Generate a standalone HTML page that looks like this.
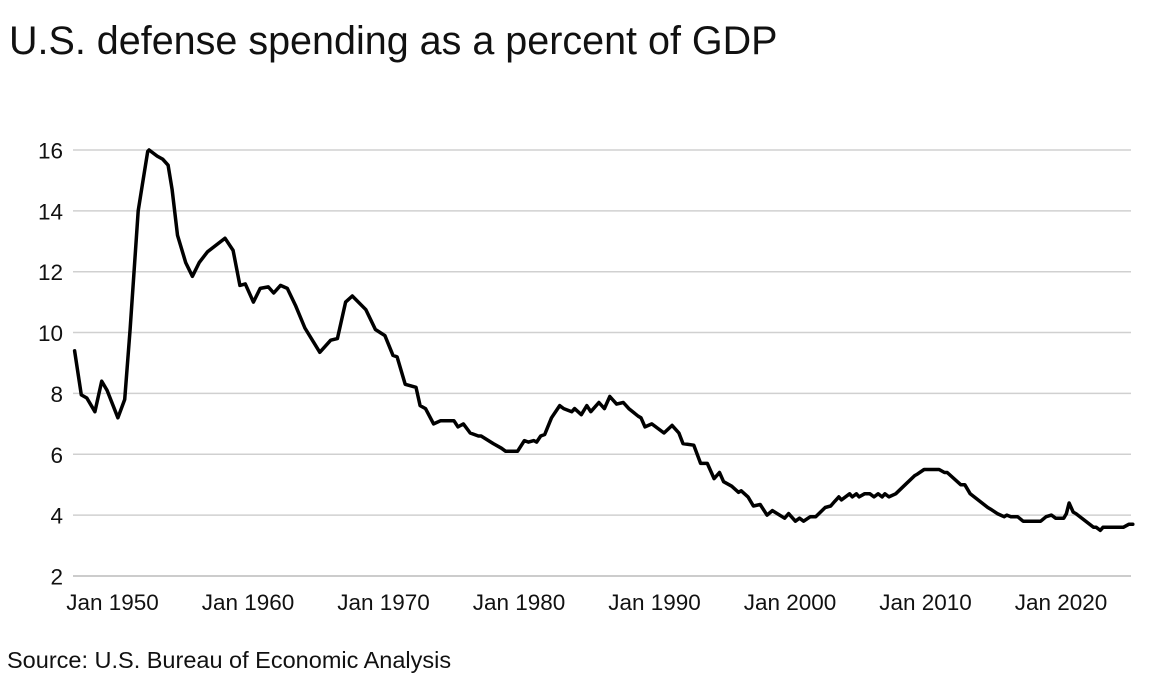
<!DOCTYPE html>
<html><head><meta charset="utf-8">
<style>
body{margin:0;background:#fff;width:1152px;height:698px;overflow:hidden;font-family:"Liberation Sans",Arial,sans-serif}
#title{position:absolute;left:9px;top:19px;font-size:39.5px;color:#111;line-height:1.15}
#source{position:absolute;left:7px;top:647px;font-size:23.5px;color:#111;line-height:1.15}
svg{position:absolute;left:0;top:0}
</style></head><body>
<div id="title">U.S. defense spending as a percent of GDP</div>
<div id="source">Source: U.S. Bureau of Economic Analysis</div>
<svg id="chart" width="1152" height="698"></svg>
<script>
const yTicks=[2,4,6,8,10,12,14,16];
const xTickYears=[1950,1960,1970,1980,1990,2000,2010,2020];
const xTickLabels=["Jan 1950","Jan 1960","Jan 1970","Jan 1980","Jan 1990","Jan 2000","Jan 2010","Jan 2020"];
const years=[1947.2,1947.7,1948.1,1948.7,1949.2,1949.6,1950.4,1950.9,1951.3,1951.9,1952.2,1952.6,1952.7,1953.3,1953.7,1954.1,1954.4,1954.8,1955.4,1955.9,1956.4,1957.0,1958.3,1958.9,1959.4,1959.8,1960.4,1960.9,1961.5,1961.9,1962.4,1962.9,1963.5,1964.2,1965.3,1966.1,1966.6,1967.2,1967.7,1968.7,1969.4,1970.1,1970.7,1971.0,1971.6,1972.4,1972.7,1973.1,1973.7,1974.2,1975.2,1975.5,1975.9,1976.4,1977.0,1977.2,1978.1,1978.7,1979.0,1979.9,1980.4,1980.7,1981.1,1981.3,1981.6,1981.9,1982.4,1983.0,1983.3,1983.9,1984.1,1984.6,1985.0,1985.3,1985.9,1986.3,1986.7,1987.2,1987.7,1988.1,1988.8,1989.0,1989.3,1989.8,1990.7,1991.3,1991.8,1992.1,1992.9,1993.4,1993.9,1994.4,1994.8,1995.1,1995.7,1996.2,1996.4,1996.9,1997.3,1997.8,1998.3,1998.7,1999.6,1999.9,2000.4,2000.7,2001.0,2001.5,2001.9,2002.6,2003.0,2003.3,2003.6,2003.8,2004.4,2004.6,2004.9,2005.1,2005.5,2005.9,2006.2,2006.5,2006.8,2007.0,2007.3,2007.8,2008.5,2009.2,2009.4,2009.9,2011.0,2011.4,2011.6,2012.6,2012.9,2013.3,2014.6,2014.8,2015.3,2015.8,2016.0,2016.3,2016.8,2017.2,2018.5,2018.9,2019.3,2019.6,2020.2,2020.4,2020.6,2020.9,2021.1,2022.4,2022.6,2022.9,2023.1,2024.6,2025.0,2025.3];
const values=[9.4,7.95,7.85,7.4,8.4,8.1,7.2,7.8,10.1,14.0,14.85,15.95,16.0,15.8,15.7,15.5,14.7,13.2,12.3,11.85,12.3,12.65,13.1,12.7,11.55,11.6,11.0,11.45,11.5,11.3,11.55,11.45,10.9,10.15,9.35,9.75,9.8,11.0,11.2,10.75,10.1,9.9,9.25,9.2,8.3,8.2,7.6,7.5,7.0,7.1,7.1,6.9,7.0,6.7,6.6,6.6,6.35,6.2,6.1,6.1,6.45,6.4,6.45,6.4,6.6,6.65,7.2,7.6,7.5,7.4,7.5,7.3,7.6,7.4,7.7,7.5,7.9,7.65,7.7,7.5,7.25,7.2,6.9,7.0,6.7,6.95,6.7,6.35,6.3,5.7,5.7,5.2,5.4,5.1,4.95,4.75,4.8,4.6,4.3,4.35,4.0,4.15,3.9,4.05,3.8,3.9,3.8,3.95,3.95,4.25,4.3,4.45,4.6,4.5,4.7,4.6,4.7,4.6,4.7,4.7,4.6,4.7,4.6,4.7,4.6,4.7,5.0,5.3,5.35,5.5,5.5,5.4,5.4,5.0,5.0,4.7,4.25,4.2,4.05,3.95,4.0,3.95,3.95,3.8,3.8,3.95,4.0,3.9,3.9,4.05,4.4,4.1,4.05,3.6,3.6,3.5,3.6,3.6,3.7,3.7];
const NS="http://www.w3.org/2000/svg";
const svg=document.getElementById('chart');
const X=y=>112.5+(y-1950)*13.55;
const Y=v=>576-(v-2)*30.43;
function mk(t,a){const e=document.createElementNS(NS,t);for(const k in a)e.setAttribute(k,a[k]);svg.appendChild(e);return e;}
yTicks.forEach(v=>{
  const g=mk('line',{x1:73,x2:1131,y1:Y(v),y2:Y(v),stroke:v===2?'#bbb':'#d0d0d0','stroke-width':1.5});
  
  
  const t=mk('text',{x:63,y:Y(v)+8.5,'text-anchor':'end','font-size':22.5,fill:'#111','font-family':'Liberation Sans, sans-serif'});
  t.textContent=v;
  
  
});
xTickYears.forEach((yr,i)=>{
  const t=mk('text',{x:X(yr),y:610,'text-anchor':'middle','font-size':22.5,fill:'#111','font-family':'Liberation Sans, sans-serif'});
  t.textContent=xTickLabels[i];
  
  
});
const p=mk('polyline',{points:years.map((y,i)=>X(y).toFixed(1)+','+Y(values[i]).toFixed(1)).join(' '),fill:'none',stroke:'#000','stroke-width':3.5,'stroke-linejoin':'round','stroke-linecap':'round'});


</script>
</body></html>
